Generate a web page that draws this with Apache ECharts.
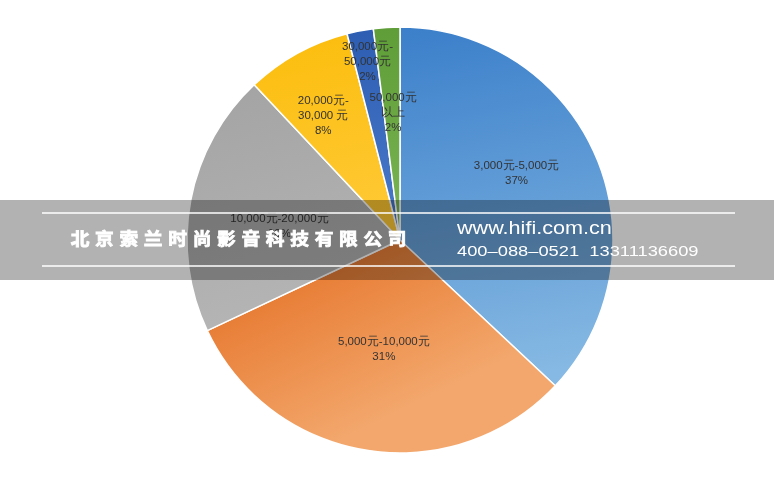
<!DOCTYPE html>
<html><head><meta charset="utf-8">
<script src="https://cdn.jsdelivr.net/npm/echarts@6/dist/echarts.min.js"></script>
<style>html,body{margin:0;padding:0;background:#fff}#c{width:774px;height:480px}</style>
</head><body><div id="c"></div>
<script>
const categories = ['3,000元-5,000元','5,000元-10,000元','10,000元-20,000元','20,000元-\n30,000 元','30,000元-\n50,000元','50,000元\n以上'];
const values = [37, 31, 20, 8, 2, 2];
const company = '北京索兰时尚影音科技有限公司';
const website = 'www.hifi.com.cn';
const phones = '400\u2013088\u20130521  13311136609';

const topColors = ['#3b7fca','#e2691b','#a3a3a3','#fbbd0c','#2c5db2','#5e9d37'];
const botColors = ['#86b9e3','#f3a76c','#b5b5b5','#ffc935','#4a7bca','#7cb655'];
const labelShift = [[16,-23.5],[1,1.5],[-13,6.5],[-24,-28.5],[-12,-71],[0,-18]];

const chart = echarts.init(document.getElementById('c'));
const data = values.map((v,i)=>({
  name: categories[i], value: v,
  itemStyle: {color: new echarts.graphic.LinearGradient(0,0,0.3,1,[{offset:0,color:topColors[i]},{offset:1,color:botColors[i]}])}
}));

const graphics = [
  {type:'rect', z:100, shape:{x:0,y:200,width:774,height:80}, style:{fill:'rgba(0,0,0,0.3)'}},
  {type:'line', z:101, shape:{x1:42,y1:213,x2:735,y2:213}, style:{stroke:'#fff',lineWidth:1.5}},
  {type:'line', z:101, shape:{x1:42,y1:266,x2:735,y2:266}, style:{stroke:'#fff',lineWidth:1.5}},
  {type:'text', z:102, x:457, y:229, scaleX:1.2, style:{text:website, fill:'#fff', font:'18px "Liberation Sans", Arial, sans-serif', verticalAlign:'middle', align:'left'}},
  {type:'text', z:102, x:457, y:252, scaleX:1.22, style:{text:phones, fill:'#fff', font:'15px "Liberation Sans", Arial, sans-serif', verticalAlign:'middle', align:'left'}}
];
company.split('').forEach((ch,i)=>{
  graphics.push({type:'text', z:102, x:80+i*24.4, y:239, scaleX:1.1,
    style:{text:ch, fill:'#fff', font:'bold 17px "Noto Sans CJK SC", sans-serif', align:'center', verticalAlign:'middle', stroke:'#fff', lineWidth:0.8}});
});

chart.setOption({
  animation:false,
  backgroundColor:'#fff',
  series:[{
    type:'pie', center:[400,240], radius:213, startAngle:90, clockwise:true,
    avoidLabelOverlap:false,
    itemStyle:{borderColor:'#fff', borderWidth:1.5},
    label:{show:true, position:'inside', color:'#333', fontSize:11.5, lineHeight:15,
      fontFamily:'"Liberation Sans", Arial, sans-serif',
      formatter: p => p.name + '\n' + p.value + '%'},
    labelLine:{show:false},
    labelLayout: p => ({dx: labelShift[p.dataIndex][0], dy: labelShift[p.dataIndex][1]}),
    emphasis:{disabled:true},
    data: data
  }],
  graphic: graphics
});
</script></body></html>
